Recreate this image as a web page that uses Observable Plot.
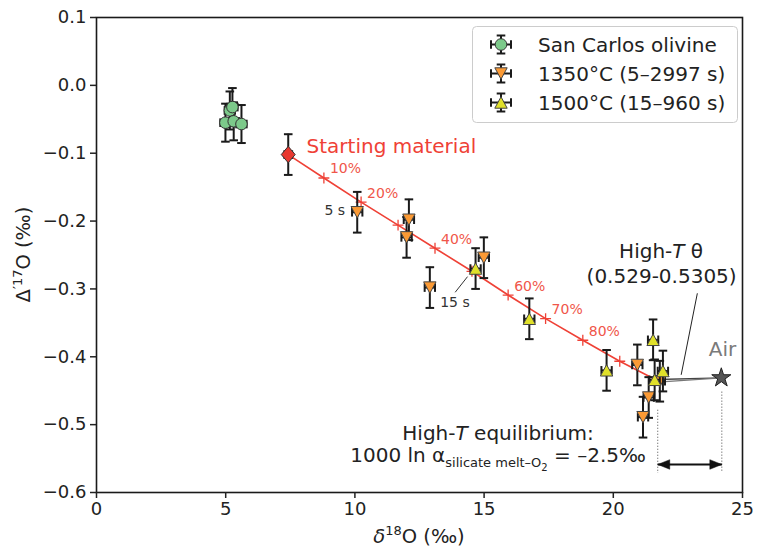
<!DOCTYPE html>
<html><head><meta charset="utf-8">
<script src="https://cdn.jsdelivr.net/npm/d3@7"></script>
<script src="https://cdn.jsdelivr.net/npm/@observablehq/plot@0.6"></script>
<style>body{margin:0;background:#fff;} #chart{position:relative;width:760px;height:547px;}</style>
</head><body><div id="chart"></div>
<script>
// ---------- data ----------
const xTicks = [0, 5, 10, 15, 20, 25];
const yTicks = [0.1, 0.0, -0.1, -0.2, -0.3, -0.4, -0.5, -0.6];

const seriesNames = ["San Carlos olivine", "1350°C (5–2997 s)", "1500°C (15–960 s)"];

const sanCarlosX = [5.16, 5.26, 4.99, 5.31, 5.61];
const sanCarlosY = [-0.037, -0.032, -0.055, -0.053, -0.057];
const sanCarlosXErr = [0.2, 0.2, 0.2, 0.2, 0.2];
const sanCarlosYErr = [0.028, 0.028, 0.028, 0.028, 0.028];

const startX = [7.42];
const startY = [-0.102];
const startXErr = [0.15];
const startYErr = [0.03];

const t1350X = [10.09, 12.09, 12.00, 12.90, 14.99, 20.93, 21.80, 21.37, 21.15];
const t1350Y = [-0.187, -0.198, -0.224, -0.298, -0.254, -0.412, -0.436, -0.460, -0.489];
const t1350XErr = [0.2, 0.2, 0.2, 0.2, 0.2, 0.2, 0.2, 0.2, 0.2];
const t1350YErr = [0.03, 0.03, 0.03, 0.03, 0.03, 0.03, 0.03, 0.03, 0.03];

const t1500X = [14.67, 16.75, 19.74, 21.54, 21.92, 21.60];
const t1500Y = [-0.270, -0.344, -0.420, -0.375, -0.421, -0.434];
const t1500XErr = [0.2, 0.2, 0.2, 0.2, 0.2, 0.2];
const t1500YErr = [0.03, 0.03, 0.03, 0.03, 0.03, 0.03];

// mixing line (starting material -> high-T equilibrium), ticks every 10 %
const mixPct = [0, 10, 20, 30, 40, 50, 60, 70, 80, 90, 100];
const mixX = [7.42, 8.80, 10.24, 11.67, 13.10, 14.53, 15.93, 17.38, 18.82, 20.25, 21.70];
const mixY = [-0.102, -0.1365, -0.172, -0.206, -0.240, -0.274, -0.309, -0.3437, -0.3756, -0.4066, -0.435];
const mixLabelled = [10, 20, 40, 60, 70, 80];

// air and high-T equilibrium
const airX = [24.18];
const airY = [-0.431];
const eqX = [21.72, 21.72];
const eqY = [-0.4335, -0.4373];

// annotation anchors (data coords)
const annText = ["Starting material", "5 s", "15 s", "(0.529-0.5305)", "Air", "High-T equilibrium:"];
const annX = [8.13, 9.62, 13.30, 21.87, 24.23, 15.56];
const annY = [-0.090, -0.184, -0.3205, -0.2825, -0.390, -0.5125];

const leader15X = [13.89, 14.35];
const leader15Y = [-0.3045, -0.2823];
const leaderThetaX = [22.63, 23.25];
const leaderThetaY = [-0.426, -0.307];
const dottedX = [21.72, 24.20];
const dottedTop = [-0.4787, -0.452];
const dottedBottom = [-0.572, -0.570];
const arrowY = [-0.5587];

// ---------- helpers ----------
const zip = (xs, ys, xe, ye) => xs.map((x, i) => ({x, y: ys[i], xe: xe ? xe[i] : 0, ye: ye ? ye[i] : 0}));
const sanCarlos = zip(sanCarlosX, sanCarlosY, sanCarlosXErr, sanCarlosYErr);
const start = zip(startX, startY, startXErr, startYErr);
const t1350 = zip(t1350X, t1350Y, t1350XErr, t1350YErr);
const t1500 = zip(t1500X, t1500Y, t1500XErr, t1500YErr);
const mix = mixPct.map((p, i) => ({p, x: mixX[i], y: mixY[i]}));

const R = s => Math.sqrt(s / Math.PI);
const triDown = {draw(c, s) { const r = R(s), h = r * 0.92; c.moveTo(-r, -h); c.lineTo(r, -h); c.lineTo(0, h); c.closePath(); }};
const triUp = {draw(c, s) { const r = R(s), h = r * 0.92; c.moveTo(0, -h); c.lineTo(r, h); c.lineTo(-r, h); c.closePath(); }};
const diamond = {draw(c, s) { const r = R(s); c.moveTo(0, -r); c.lineTo(r * 0.85, 0); c.lineTo(0, r); c.lineTo(-r * 0.85, 0); c.closePath(); }};
const hcap = {draw(c, s) { const r = R(s); c.moveTo(-r, 0); c.lineTo(r, 0); }};
const vcap = {draw(c, s) { const r = R(s); c.moveTo(0, -r); c.lineTo(0, r); }};
const headL = {draw(c, s) { const r = R(s); c.moveTo(0, 0); c.lineTo(2 * r, -0.8 * r); c.lineTo(2 * r, 0.8 * r); c.closePath(); }};
const headR = {draw(c, s) { const r = R(s); c.moveTo(0, 0); c.lineTo(-2 * r, -0.8 * r); c.lineTo(-2 * r, 0.8 * r); c.closePath(); }};

const EB = "#1a1a1a";
function errorbars(rows) {
  return [
    Plot.ruleX(rows, {x: "x", y1: d => d.y - d.ye, y2: d => d.y + d.ye, stroke: EB, strokeWidth: 2}),
    Plot.ruleY(rows, {y: "y", x1: d => d.x - d.xe, x2: d => d.x + d.xe, stroke: EB, strokeWidth: 2}),
    Plot.dot(rows, {x: "x", y: d => d.y + d.ye, symbol: hcap, r: 4.3, stroke: EB, strokeWidth: 2, fill: "none"}),
    Plot.dot(rows, {x: "x", y: d => d.y - d.ye, symbol: hcap, r: 4.3, stroke: EB, strokeWidth: 2, fill: "none"}),
    Plot.dot(rows, {x: d => d.x - d.xe, y: "y", symbol: vcap, r: 4.3, stroke: EB, strokeWidth: 2, fill: "none"}),
    Plot.dot(rows, {x: d => d.x + d.xe, y: "y", symbol: vcap, r: 4.3, stroke: EB, strokeWidth: 2, fill: "none"})
  ];
}

const RED = "#ef4136";
const RED2 = "#f0564a";
const GREEN = "#7cc98a", ORANGE = "#fb9a35", YELLOW = "#e0e02a";

const ann = annText.map((t, i) => ({t, x: annX[i], y: annY[i]}));

const chart = Plot.plot({
  width: 760, height: 547,
  marginLeft: 96, marginRight: 18, marginTop: 17, marginBottom: 55,
  style: {fontFamily: "'DejaVu Sans', sans-serif", fontSize: "18px", color: "#222", background: "#fff", overflow: "visible"},
  x: {domain: [0, 25], label: null},
  y: {domain: [-0.6, 0.1], label: null},
  marks: [
    // high-T theta lines from air
    Plot.link(eqX.map((x, i) => i), {x1: () => airX[0], y1: () => airY[0], x2: i => eqX[i], y2: i => eqY[i], stroke: (i) => i === 0 ? "#444" : "#777", strokeWidth: 1.3}),
    // dotted lines
    Plot.ruleX(dottedX.map((x, i) => i), {x: i => dottedX[i], y1: i => dottedTop[i], y2: i => dottedBottom[i], stroke: "#666", strokeWidth: 1, strokeDasharray: "1.2,1.8"}),
    // double arrow
    Plot.link(arrowY, {x1: () => dottedX[0], x2: () => dottedX[1], y1: d => d, y2: d => d, stroke: "#111", strokeWidth: 2}),
    Plot.dot(arrowY, {x: () => dottedX[0], y: d => d, symbol: headL, r: 6, fill: "#111", stroke: "#111", strokeWidth: 0.5}),
    Plot.dot(arrowY, {x: () => dottedX[1], y: d => d, symbol: headR, r: 6, fill: "#111", stroke: "#111", strokeWidth: 0.5}),
    // leader lines
    Plot.line(leader15X.map((x, i) => i), {x: i => leader15X[i], y: i => leader15Y[i], stroke: "#333", strokeWidth: 1}),
    Plot.line(leaderThetaX.map((x, i) => i), {x: i => leaderThetaX[i], y: i => leaderThetaY[i], stroke: "#222", strokeWidth: 1}),
    // mixing line
    Plot.line(mix, {x: "x", y: "y", stroke: RED, strokeWidth: 1.6}),
    Plot.dot(mix.filter(d => d.p > 0 && d.p < 100), {x: "x", y: "y", symbol: "plus", r: 3.6, stroke: RED, strokeWidth: 1.3}),
    Plot.text(mix.filter(d => mixLabelled.includes(d.p)), {x: "x", y: "y", text: d => d.p + "%", dx: 6, dy: -9, textAnchor: "start", fill: RED2, fontSize: 14}),
    // San Carlos
    ...errorbars(sanCarlos),
    Plot.dot(sanCarlos, {x: "x", y: "y", r: 5.8, fill: GREEN, stroke: "#333", strokeWidth: 1}),
    // starting material
    ...errorbars(start),
    Plot.dot(start, {x: "x", y: "y", symbol: diamond, r: 8.2, fill: "#e8382f", stroke: "#333", strokeWidth: 1}),
    // 1350
    ...errorbars(t1350),
    Plot.dot(t1350, {x: "x", y: "y", symbol: triDown, r: 6.2, fill: ORANGE, stroke: "#444", strokeWidth: 1}),
    // 1500
    ...errorbars(t1500),
    Plot.dot(t1500, {x: "x", y: "y", symbol: triUp, r: 6.2, fill: YELLOW, stroke: "#444", strokeWidth: 1}),
    // air star
    Plot.dot(airX.map((x, i) => i), {x: i => airX[i], y: i => airY[i], symbol: "star", r: 6, fill: "#555", stroke: "#222", strokeWidth: 1}),
    // annotations (plain)
    Plot.text(ann.slice(0, 1), {x: "x", y: "y", text: "t", textAnchor: "start", fill: RED, fontSize: 20}),
    Plot.text(ann.slice(1, 2), {x: "x", y: "y", text: "t", textAnchor: "end", fill: "#333", fontSize: 14}),
    Plot.text(ann.slice(2, 3), {x: "x", y: "y", text: "t", textAnchor: "start", fill: "#333", fontSize: 14}),
    Plot.text(ann.slice(3, 4), {x: "x", y: "y", text: "t", textAnchor: "middle", fill: "#222", fontSize: 20}),
    Plot.text(ann.slice(4, 5), {x: "x", y: "y", text: "t", textAnchor: "middle", fill: "#7a7a7a", fontSize: 20}),
    // axes & frame
    Plot.frame({stroke: "#1a1a1a", strokeWidth: 1.6}),
    Plot.axisX({ticks: xTicks, tickFormat: d3.format("d"), tickSize: 6, tickPadding: 4, strokeWidth: 1.5, fontSize: 18, label: null}),
    Plot.axisY({ticks: yTicks, tickFormat: d3.format(".1f"), tickSize: 6, tickPadding: 4, strokeWidth: 1.5, fontSize: 18, label: null})
  ]
});

document.getElementById("chart").appendChild(chart);

// ---------- rich text & legend ----------
const sx = chart.scale("x"), sy = chart.scale("y");
const svg = d3.select(chart);
const FONT = "'DejaVu Sans', sans-serif";

// High-T equilibrium lines
const eqLabel = ann[5];
svg.append("text").attr("x", sx.apply(eqLabel.x)).attr("y", sy.apply(eqLabel.y)).attr("dy", "0.35em")
  .attr("text-anchor", "middle").attr("font-family", FONT).attr("font-size", 20).attr("fill", "#222")
  .call(t => { t.append("tspan").text("High-"); t.append("tspan").attr("font-style", "italic").text("T"); t.append("tspan").text(" equilibrium:"); });
const l2 = svg.append("text").attr("x", sx.apply(eqLabel.x)).attr("y", sy.apply(-0.5455)).attr("dy", "0.35em")
  .attr("text-anchor", "middle").attr("font-family", FONT).attr("font-size", 20).attr("fill", "#222");
l2.append("tspan").text("1000 ln α");
l2.append("tspan").attr("font-size", 13).attr("dy", 5).text("silicate melt–O");
l2.append("tspan").attr("font-size", 10).attr("dy", 4).text("2");
l2.append("tspan").attr("dy", -9).text(" = –2.5‰");

// High-T theta
svg.append("text").attr("x", sx.apply(21.87)).attr("y", sy.apply(-0.2445)).attr("dy", "0.35em")
  .attr("text-anchor", "middle").attr("font-family", FONT).attr("font-size", 20).attr("fill", "#222")
  .call(t => { t.append("tspan").text("High-"); t.append("tspan").attr("font-style", "italic").text("T"); t.append("tspan").text(" θ"); });

// axis labels
const x0 = 96, x1 = 742, y0 = 17, y1 = 492;
const xl = svg.append("text").attr("x", (x0 + x1) / 2).attr("y", 543).attr("text-anchor", "middle")
  .attr("font-family", FONT).attr("font-size", 19.5).attr("fill", "#222");
xl.append("tspan").attr("font-style", "italic").text("δ");
xl.append("tspan").attr("font-size", 13).attr("dy", -8).text("18");
xl.append("tspan").attr("dy", 8).text("O (‰)");
const yl = svg.append("text").attr("transform", `translate(30,${(y0 + y1) / 2}) rotate(-90)`).attr("text-anchor", "middle")
  .attr("font-family", FONT).attr("font-size", 19.5).attr("fill", "#222");
yl.append("tspan").text("Δ");
yl.append("tspan").attr("font-size", 13).attr("dy", -8).text("′17");
yl.append("tspan").attr("dy", 8).text("O (‰)");

// legend
const lg = svg.append("g");
lg.append("rect").attr("x", 472.5).attr("y", 26.5).attr("width", 265).attr("height", 96).attr("rx", 4)
  .attr("fill", "rgba(255,255,255,0.85)").attr("stroke", "#cccccc").attr("stroke-width", 1);
const legendFills = [GREEN, ORANGE, YELLOW];
const legendSymbols = [d3.symbolCircle, triDown, triUp];
const legendR = [5.8, 6.2, 6.2];
seriesNames.forEach((name, i) => {
  const cy = 44.5 + i * 29, cx = 501;
  const g = lg.append("g").attr("transform", `translate(${cx},${cy})`);
  const ln = (a, b, c, d) => g.append("line").attr("x1", a).attr("y1", b).attr("x2", c).attr("y2", d).attr("stroke", EB).attr("stroke-width", 2);
  ln(0, -9, 0, 9); ln(-10, 0, 10, 0);
  ln(-4.3, -9, 4.3, -9); ln(-4.3, 9, 4.3, 9);
  ln(-10, -4.3, -10, 4.3); ln(10, -4.3, 10, 4.3);
  const p = d3.path(); legendSymbols[i].draw(p, Math.PI * legendR[i] * legendR[i]);
  g.append("path").attr("d", p.toString()).attr("fill", legendFills[i]).attr("stroke", i === 0 ? "#333" : "#444").attr("stroke-width", 1);
  lg.append("text").attr("x", 538).attr("y", cy).attr("dy", "0.35em").attr("text-anchor", "start").attr("font-family", FONT)
    .attr("font-size", 20).attr("fill", "#222").text(name);
});
</script></body></html>
